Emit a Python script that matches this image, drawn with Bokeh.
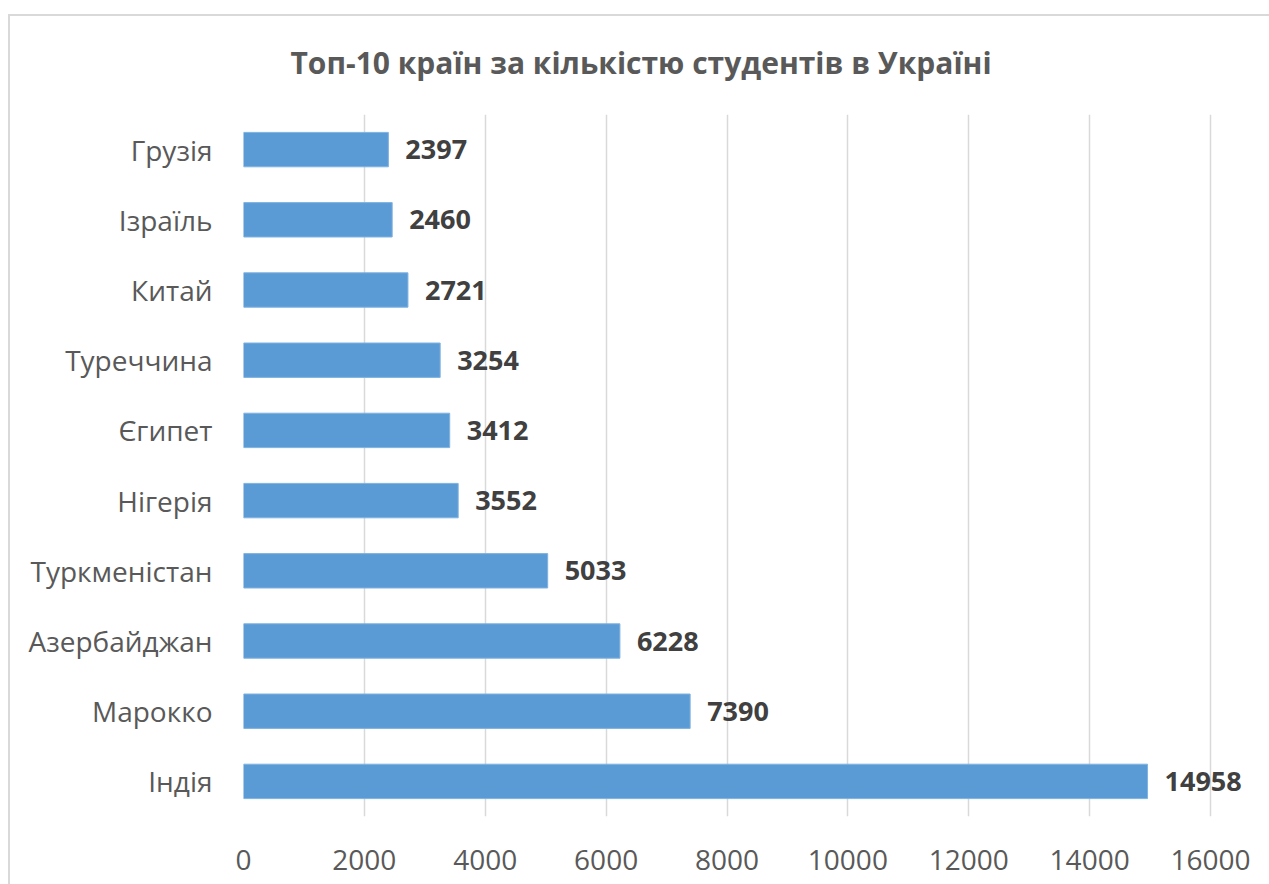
from bokeh.plotting import figure
from bokeh.models import (ColumnDataSource, FactorRange, Range1d, LabelSet,
                          SingleIntervalTicker, InlineStyleSheet)
from bokeh.core.properties import value
from bokeh.embed import file_html
from bokeh.resources import INLINE

countries = ["Грузія", "Ізраїль", "Китай", "Туреччина", "Єгипет", "Нігерія",
             "Туркменістан", "Азербайджан", "Марокко", "Індія"]
students = [2397, 2460, 2721, 3254, 3412, 3552, 5033, 6228, 7390, 14958]
title_text = "Топ-10 країн за кількістю студентів в Україні"

FONT = "Open Sans"

src = ColumnDataSource(dict(country=countries, n=students,
                            lbl=[str(v) for v in students]))

p = figure(width=1269, height=884, output_backend="svg", toolbar_location=None,
           y_range=FactorRange(factors=list(reversed(countries)), range_padding=0),
           x_range=Range1d(0, 16976),
           min_border_left=243, min_border_right=0, min_border_top=114, min_border_bottom=68)

p.title.text = title_text
p.title.align = "left"
p.title.offset = 47
p.title.text_font = FONT
p.title.text_font_style = "bold"
p.title.text_font_size = "30px"
p.title.text_color = "#595959"
p.title.standoff = 63

p.hbar(y="country", right="n", left=0, height=0.49, source=src,
       fill_color="#5B9BD5", line_color="#7FB2E0", line_width=1)

p.add_layout(LabelSet(x="n", y="country", text="lbl", source=src, x_offset=17,
                      text_baseline="middle", text_align="left",
                      text_font=value(FONT), text_font_style="bold",
                      text_font_size="27px", text_color="#404040"))

p.xaxis.ticker = SingleIntervalTicker(interval=2000)
for ax in (p.xaxis, p.yaxis):
    ax.axis_line_color = None
    ax.major_tick_line_color = None
    ax.minor_tick_line_color = None
    ax.major_label_text_font = FONT
    ax.major_label_text_font_size = "28px"
    ax.major_label_text_color = "#595959"
p.xaxis.major_label_standoff = 27
p.yaxis.major_label_standoff = 25

p.xgrid.grid_line_color = "#D9D9D9"
p.xgrid.grid_line_width = 1.5
p.ygrid.grid_line_color = None
p.outline_line_color = None

p.stylesheets = [InlineStyleSheet(css="""
:host { position: relative; }
:host::after { content: ""; position: absolute; left: 8px; top: 14px; right: 0; bottom: 0;
  border-left: 2px solid #D9D9D9; border-top: 2px solid #D9D9D9;
  pointer-events: none; z-index: 10; }
""")]

open("out.html", "w").write(file_html(p, INLINE))
